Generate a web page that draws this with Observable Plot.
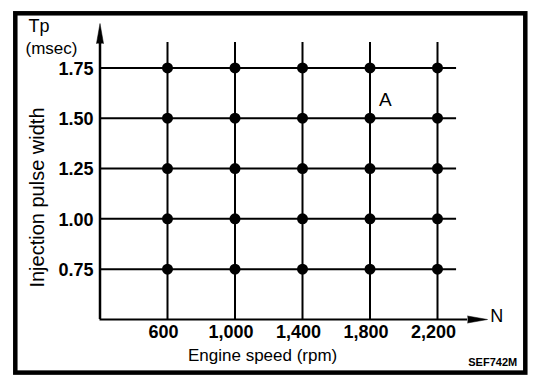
<!DOCTYPE html>
<html>
<head>
<meta charset="utf-8">
<script src="https://cdn.jsdelivr.net/npm/d3@7"></script>
<script src="https://cdn.jsdelivr.net/npm/@observablehq/plot@0.6"></script>
<style>
  html, body { margin: 0; padding: 0; background: #fff; }
  svg { display: block; }
</style>
</head>
<body>
<div id="chart"></div>
<script>
// Engine speed grid values (rpm)
const speeds = [600, 1000, 1400, 1800, 2200];
const speedLabels = ["600", "1,000", "1,400", "1,800", "2,200"];
// Injection pulse width grid values (msec)
const widths = [0.75, 1.00, 1.25, 1.50, 1.75];
const widthLabels = ["0.75", "1.00", "1.25", "1.50", "1.75"];
// Axis origin and extents
const xOrigin = 200, yOrigin = 0.5;
const gridRight = 2313, gridTop = 1.876;
const axisRight = 2378, axisTop = 1.871;

const points = speeds.flatMap(s => widths.map(w => ({speed: s, width: w})));
const xTicks = speeds.map((s, i) => ({v: s, label: speedLabels[i]}));
const yTicks = widths.map((w, i) => ({v: w, label: widthLabels[i]}));

const plot = Plot.plot({
  width: 544,
  height: 384,
  marginLeft: 99.5,
  marginRight: 73.25,
  marginTop: 17.05,
  marginBottom: 65,
  style: {fontFamily: "Liberation Sans, Arial, sans-serif", background: "#fff", color: "#000"},
  x: {domain: [xOrigin, 2400], axis: null},
  y: {domain: [yOrigin, 2.0], axis: null},
  marks: [
    // grid
    Plot.ruleY(widths, {y: d => d, x1: xOrigin, x2: gridRight, stroke: "#000", strokeWidth: 2}),
    Plot.ruleX(speeds, {x: d => d, y1: yOrigin, y2: gridTop, stroke: "#000", strokeWidth: 2}),
    // axes
    Plot.ruleX([xOrigin], {y1: yOrigin, y2: axisTop, stroke: "#000", strokeWidth: 2.5}),
    Plot.ruleY([yOrigin], {x1: xOrigin, x2: axisRight, stroke: "#000", strokeWidth: 2}),
    Plot.vector([{x: xOrigin, y: axisTop}], {x: "x", y: "y", length: 20, rotate: 0, anchor: "start", shape: "spike", r: 3.5, fill: "#000", stroke: "#000", strokeWidth: 0.5}),
    Plot.vector([{x: axisRight, y: yOrigin}], {x: "x", y: "y", length: 20, rotate: 90, anchor: "start", shape: "spike", r: 3.5, fill: "#000", stroke: "#000", strokeWidth: 0.5}),
    // points
    Plot.dot(points, {x: "speed", y: "width", r: 5.5, fill: "#000"}),
    // tick labels
    Plot.text(xTicks, {x: "v", text: "label", ariaLabel: "xticklabels", frameAnchor: "bottom", lineAnchor: "middle", textAnchor: "middle", dy: 12.5, dx: -4, fontSize: 18, fontWeight: "bold", fill: "#000"}),
    Plot.text(yTicks, {y: "v", text: "label", ariaLabel: "yticklabels", frameAnchor: "left", lineAnchor: "middle", textAnchor: "end", dx: -6.5, dy: 1, fontSize: 18, fontWeight: "bold", fill: "#000"}),
    // axis titles
    Plot.text(["Engine speed (rpm)"], {frameAnchor: "bottom", lineAnchor: "middle", textAnchor: "middle", dx: -23, dy: 36, fontSize: 17, fill: "#000"}),
    Plot.text(["Injection pulse width"], {ariaLabel: "ylabel", frameAnchor: "left", lineAnchor: "middle", textAnchor: "middle", rotate: -90, dx: -62, dy: 29, fontSize: 20, fill: "#000"}),
    Plot.text(["Tp"], {frameAnchor: "top-left", lineAnchor: "middle", textAnchor: "start", dx: -71.5, dy: 9, fontSize: 18, fill: "#000"}),
    Plot.text(["(msec)"], {frameAnchor: "top-left", lineAnchor: "middle", textAnchor: "start", dx: -74.5, dy: 31, fontSize: 17, fill: "#000"}),
    Plot.text(["N"], {frameAnchor: "bottom-right", lineAnchor: "middle", textAnchor: "start", dx: 19, dy: -3, fontSize: 18, fill: "#000"}),
    Plot.text(["A"], {x: [1800], y: [1.5], dx: 9, dy: -18, lineAnchor: "middle", textAnchor: "start", fontSize: 19, fill: "#000"}),
    Plot.text(["SEF742M"], {frameAnchor: "bottom-right", lineAnchor: "middle", textAnchor: "start", dx: -3, dy: 43, fontSize: 11, fontWeight: "bold", fill: "#000"})
  ]
});

// letter spacing for the wide lettering of the original
d3.select(plot).selectAll('g[aria-label="xticklabels"], g[aria-label="yticklabels"]').style("letter-spacing", "1px");
d3.select(plot).selectAll('g[aria-label="ylabel"]').style("letter-spacing", "0.8px");

// outer figure border
d3.select(plot).append("rect")
  .attr("x", 15.3).attr("y", 13.3).attr("width", 510).attr("height", 359.3)
  .attr("fill", "none").attr("stroke", "#000").attr("stroke-width", 4.5);

document.getElementById("chart").appendChild(plot);
</script>
</body>
</html>
